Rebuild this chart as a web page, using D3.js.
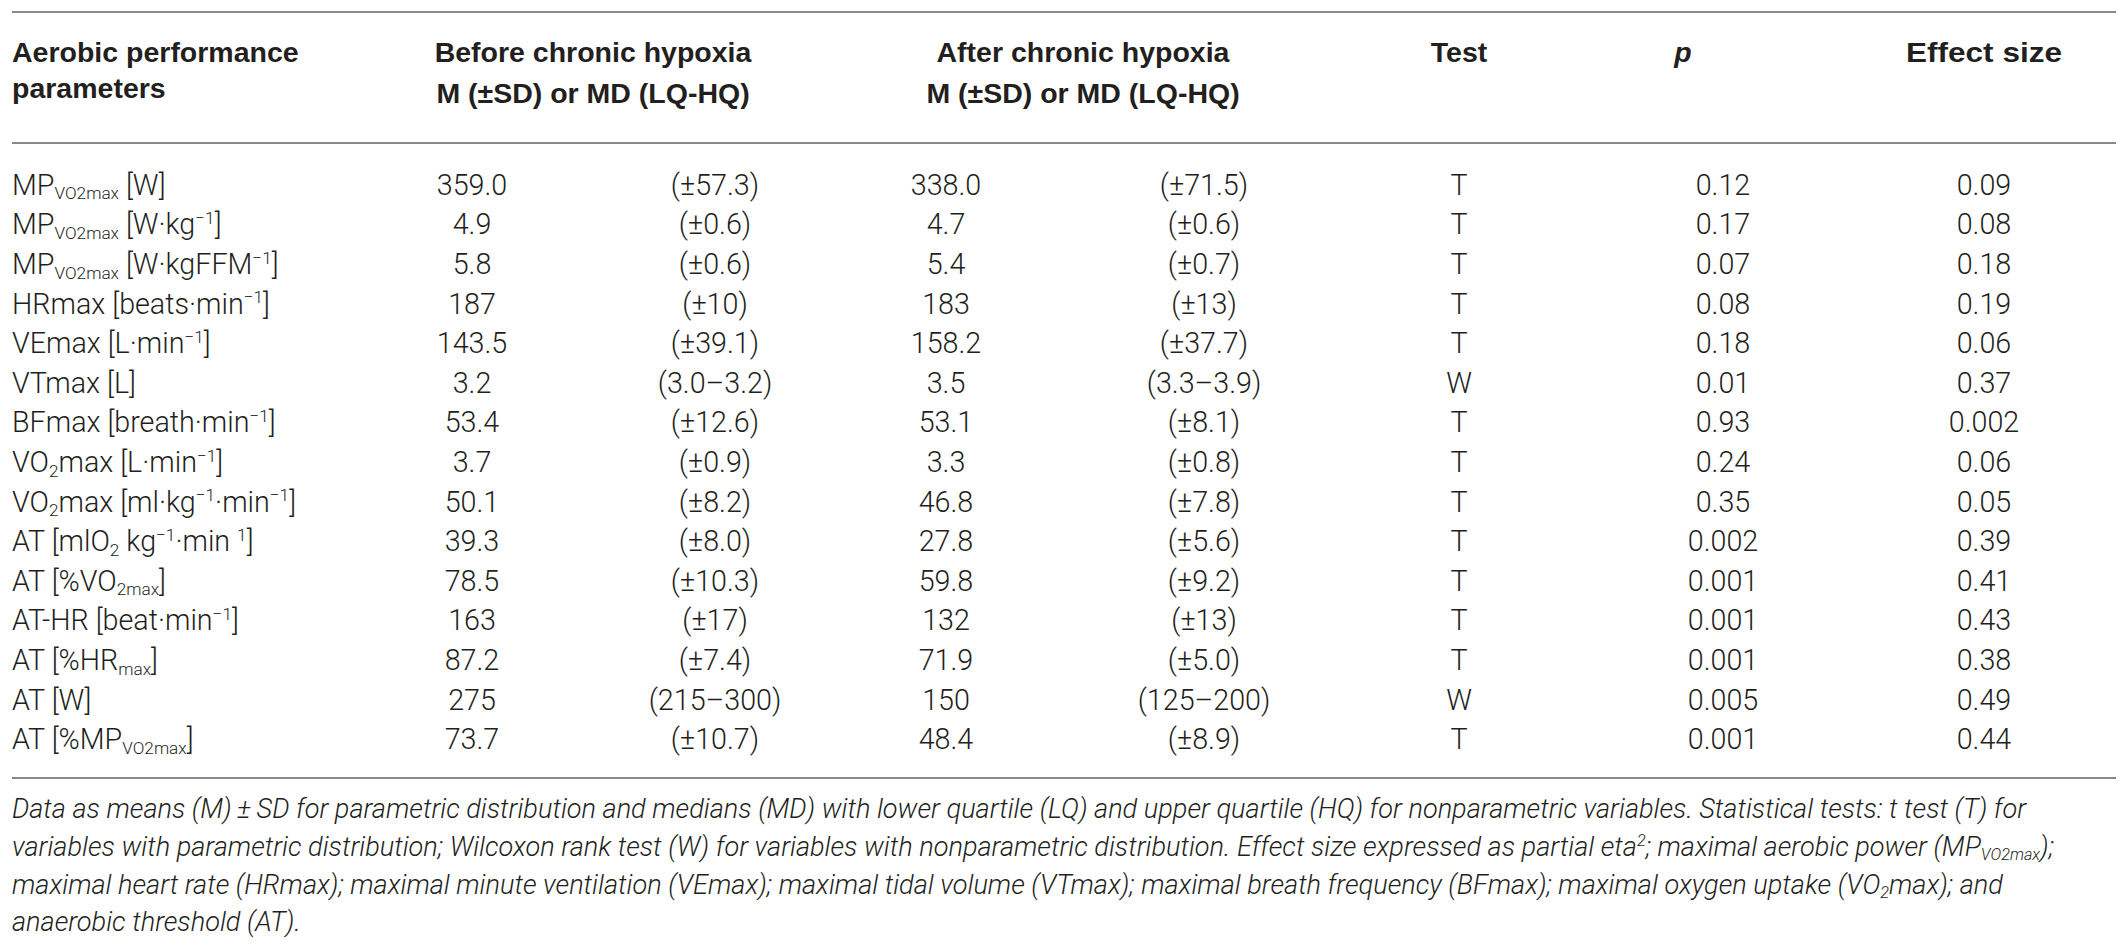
<!DOCTYPE html>
<html>
<head>
<meta charset="utf-8">
<script src="https://cdn.jsdelivr.net/npm/d3@7/dist/d3.min.js"></script>
<style>
  html, body { margin: 0; padding: 0; background: #ffffff; }
  svg { display: block; }
  text { white-space: pre; }
</style>
</head>
<body>
<svg id="chart" width="2128" height="948"></svg>
<script>
// ---------------- data ----------------
const headerCols = ["Aerobic performance", "Before chronic hypoxia", "After chronic hypoxia", "Test", "p", "Effect size"];
const headerSub = ["parameters", "M (±SD) or MD (LQ-HQ)", "M (±SD) or MD (LQ-HQ)"];

const parameters = [
  "MP_{VO2max} [W]",
  "MP_{VO2max} [W·kg^{−1}]",
  "MP_{VO2max} [W·kgFFM^{−1}]",
  "HRmax [beats·min^{−1}]",
  "VEmax [L·min^{−1}]",
  "VTmax [L]",
  "BFmax [breath·min^{−1}]",
  "VO_{2}max [L·min^{−1}]",
  "VO_{2}max [ml·kg^{−1}·min^{−1}]",
  "AT [mlO_{2} kg^{−1}·min ^{1}]",
  "AT [%VO_{2max}]",
  "AT-HR [beat·min^{−1}]",
  "AT [%HR_{max}]",
  "AT [W]",
  "AT [%MP_{VO2max}]"
];
const beforeM  = ["359.0", "4.9", "5.8", "187", "143.5", "3.2", "53.4", "3.7", "50.1", "39.3", "78.5", "163", "87.2", "275", "73.7"];
const beforeSD = ["(±57.3)", "(±0.6)", "(±0.6)", "(±10)", "(±39.1)", "(3.0–3.2)", "(±12.6)", "(±0.9)", "(±8.2)", "(±8.0)", "(±10.3)", "(±17)", "(±7.4)", "(215–300)", "(±10.7)"];
const afterM   = ["338.0", "4.7", "5.4", "183", "158.2", "3.5", "53.1", "3.3", "46.8", "27.8", "59.8", "132", "71.9", "150", "48.4"];
const afterSD  = ["(±71.5)", "(±0.6)", "(±0.7)", "(±13)", "(±37.7)", "(3.3–3.9)", "(±8.1)", "(±0.8)", "(±7.8)", "(±5.6)", "(±9.2)", "(±13)", "(±5.0)", "(125–200)", "(±8.9)"];
const tests    = ["T", "T", "T", "T", "T", "W", "T", "T", "T", "T", "T", "T", "T", "W", "T"];
const pValues  = ["0.12", "0.17", "0.07", "0.08", "0.18", "0.01", "0.93", "0.24", "0.35", "0.002", "0.001", "0.001", "0.001", "0.005", "0.001"];
const effectSizes = ["0.09", "0.08", "0.18", "0.19", "0.06", "0.37", "0.002", "0.06", "0.05", "0.39", "0.41", "0.43", "0.38", "0.49", "0.44"];

const footnote = [
  "Data as means (M)\u2009±\u2009SD for parametric distribution and medians (MD) with lower quartile (LQ) and upper quartile (HQ) for nonparametric variables. Statistical tests: t test (T) for",
  "variables with parametric distribution; Wilcoxon rank test (W) for variables with nonparametric distribution. Effect size expressed as partial eta^{2}; maximal aerobic power (MP_{VO2max});",
  "maximal heart rate (HRmax); maximal minute ventilation (VEmax); maximal tidal volume (VTmax); maximal breath frequency (BFmax); maximal oxygen uptake (VO_{2}max); and",
  "anaerobic threshold (AT)."
];

// ---------------- layout ----------------
const W = 2128, H = 948;
const FONT = "Roboto, 'Liberation Sans', Arial, sans-serif";
const BOLD = "'Liberation Sans', Arial, Helvetica, sans-serif";
const INK = "#231f20";
const RULE = "#8a8a8a";
const left = 12, right = 2116;
const headSize = 28.5;
let bodySize = 28;

const svg = d3.select("#chart");
svg.append("rect").attr("width", W).attr("height", H).attr("fill", "#fff");

// column positions
const colKeys = ["label", "beforeM", "beforeSD", "afterM", "afterSD", "test", "p", "effect"];
const colX = d3.scaleOrdinal().domain(colKeys).range([left, 472, 715, 946, 1204, 1459, 1723, 1984]);
const headX = d3.scaleOrdinal().domain(d3.range(6)).range([left, 593, 1083, 1459, 1683, 1984]);

// row positions
const rowIdx = d3.range(parameters.length);
const y = d3.scaleBand().domain(rowIdx).range([165, 165 + 39.6 * parameters.length]).padding(0);
const rowBaseline = i => y(i) + y.bandwidth() / 2 + 10;

// rich text helper: _{sub} and ^{sup}
function rich(sel, str, size, subScale) {
  subScale = subScale || 0.6;
  const parts = str.split(/(_\{[^}]*\}|\^\{[^}]*\})/).filter(s => s.length);
  let shift = 0;
  parts.forEach(p => {
    let kind = "n", t = p;
    if (p.startsWith("_{")) { kind = "sub"; t = p.slice(2, -1); }
    else if (p.startsWith("^{")) { kind = "sup"; t = p.slice(2, -1); }
    const target = kind === "sub" ? size * 0.16 : kind === "sup" ? -size * 0.36 : 0;
    const ts = sel.append("tspan").text(t).attr("dy", (target - shift).toFixed(2));
    if (kind !== "n") ts.attr("font-size", (size * subScale).toFixed(2));
    shift = target;
  });
}

// rules
const rules = [12, 143, 778];
svg.selectAll("line.rule").data(rules).enter().append("line")
  .attr("class", "rule")
  .attr("x1", left).attr("x2", right)
  .attr("y1", d => d).attr("y2", d => d)
  .attr("stroke", RULE).attr("stroke-width", 2);

// header
const head = svg.append("g").attr("font-family", BOLD).attr("font-weight", "bold")
  .attr("font-size", headSize).attr("fill", INK);
headerCols.forEach((h, i) => {
  const t = head.append("text")
    .attr("x", headX(i)).attr("y", 62)
    .attr("text-anchor", i === 0 ? "start" : "middle")
    .attr("font-style", i === 4 ? "italic" : "normal")
    .text(h);
  if (i === 5) t.attr("textLength", 156).attr("lengthAdjust", "spacingAndGlyphs");
});
headerSub.forEach((h, i) => {
  head.append("text")
    .attr("x", headX(i)).attr("y", i === 0 ? 98 : 103)
    .attr("text-anchor", i === 0 ? "start" : "middle")
    .text(h);
});

// body
const body = svg.append("g").attr("font-family", FONT).attr("font-weight", 300).attr("fill", INK);

function drawBody() {
  body.selectAll("*").remove();
  body.attr("font-size", bodySize);
  const rowsG = body.selectAll("g.row").data(rowIdx).enter().append("g").attr("class", "row");
  rowsG.append("text")
    .attr("class", "label")
    .attr("x", colX("label"))
    .attr("y", i => rowBaseline(i))
    .each(function (i) { rich(d3.select(this), parameters[i], bodySize, 0.6); });
  const cells = [
    ["beforeM", beforeM], ["beforeSD", beforeSD], ["afterM", afterM], ["afterSD", afterSD],
    ["test", tests], ["p", pValues], ["effect", effectSizes]
  ];
  cells.forEach(([key, arr]) => {
    rowsG.append("text")
      .attr("x", colX(key))
      .attr("y", i => rowBaseline(i))
      .attr("text-anchor", "middle")
      .text(i => arr[i]);
  });
}
drawBody();
// fit: the HRmax label should span ~258px as in the reference
const lw = body.selectAll("text.label").nodes()[3].getComputedTextLength();
bodySize = bodySize * 258 / lw;
bodySize = Math.max(24, Math.min(32, bodySize));
drawBody();

// footnote
const footG = svg.append("g").attr("font-family", FONT).attr("font-weight", 300).attr("font-style", "italic").attr("fill", INK);
const footBase = [818, 856, 894, 931];
function drawFoot(size) {
  footG.selectAll("*").remove();
  footnote.forEach((line, i) => {
    const t = footG.append("text").attr("x", left).attr("y", footBase[i]).attr("font-size", size);
    rich(t, line, size, 0.6);
  });
}
drawFoot(25);
const w0 = footG.select("text").node().getComputedTextLength();
drawFoot(25 * (2027 - left) / w0);
</script>
</body>
</html>
